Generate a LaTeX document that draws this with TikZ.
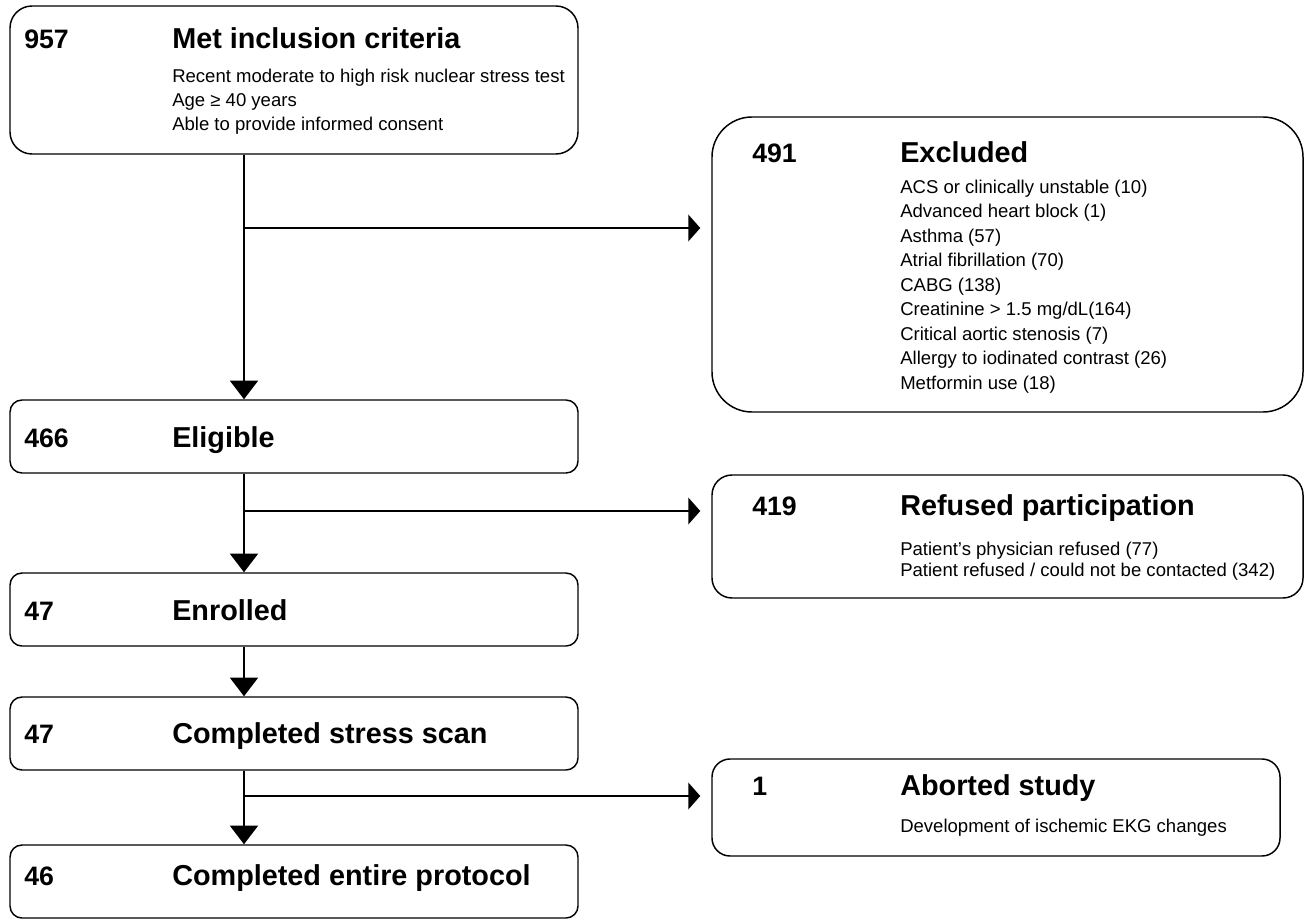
\documentclass[tikz,border=0pt]{standalone}
\usepackage{fontspec}
\setmainfont{Liberation Sans}
\usetikzlibrary{arrows.meta}

\begin{document}
\begin{tikzpicture}[x=0.75pt,y=-0.75pt,
    box/.style={draw,line width=1.1pt,rounded corners=#1,inner sep=0pt},
    num/.style={anchor=base west,inner sep=0pt,font=\fontsize{20}{24}\selectfont\bfseries},
    head/.style={anchor=base west,inner sep=0pt,font=\fontsize{21.6}{26}\selectfont\bfseries},
    item/.style={anchor=base west,inner sep=0pt,font=\fontsize{13.9}{17}\selectfont},
    down/.style={line width=1.5pt,-{Triangle[width=21pt,length=14pt]}},
    side/.style={line width=1.5pt,-{Triangle[width=20pt,length=9pt]},shorten >=8.25pt}]
    \useasboundingbox (0,0) rectangle (1309,920);

    % boxes
    \node[box=16.5pt,minimum width=426pt,minimum height=111pt] (incl) at (294,80) {};
    \node[box=30pt,minimum width=443.25pt,minimum height=221.25pt] (excl) at (1007.5,264.5) {};
    \node[box=9pt,minimum width=426pt,minimum height=54.75pt] (elig) at (294,436.5) {};
    \node[box=15pt,minimum width=443.25pt,minimum height=92.25pt] (refus) at (1007.5,536.5) {};
    \node[box=9pt,minimum width=426pt,minimum height=54.75pt] (enrol) at (294,609.5) {};
    \node[box=9pt,minimum width=426pt,minimum height=54.75pt] (stress) at (294,733.5) {};
    \node[box=9pt,minimum width=426pt,minimum height=54.75pt] (entire) at (294,881.5) {};
    \node[box=13.5pt,minimum width=426pt,minimum height=72.75pt] (abort) at (996,807.5) {};

    % texts
    \node[num] (incl-n) at (24,49) {957};
    \node[head] (incl-t) at (172,49) {Met inclusion criteria};
    \foreach \txt [count=\k] in {Recent moderate to high risk nuclear stress test,
        Age ≥ 40 years, Able to provide informed consent}
        \node[item] (incl-\k) at (172,{59+24*\k}) {\txt};

    \node[num] (excl-n) at (752,163) {491};
    \node[head] (excl-t) at (900,163) {Excluded};
    \foreach \txt [count=\k] in {ACS or clinically unstable (10), Advanced heart block (1),
        Asthma (57), Atrial fibrillation (70), CABG (138), Creatinine > 1.5 mg/dL(164),
        Critical aortic stenosis (7), Allergy to iodinated contrast (26), Metformin use (18)}
        \node[item] (excl-\k) at (900,{168.5+24.5*\k}) {\txt};

    \node[num] (elig-n) at (24,447) {466};
    \node[head] (elig-t) at (172,447) {Eligible};

    \node[num] (refus-n) at (752,515) {419};
    \node[head] (refus-t) at (900,515) {Refused participation};
    \foreach \txt [count=\k] in {Patient’s physician refused (77),
        Patient refused / could not be contacted (342)}
        \node[item] (refus-\k) at (900,{534+21*\k}) {\txt};

    \node[num] (enrol-n) at (24,620) {47};
    \node[head] (enrol-t) at (172,620) {Enrolled};

    \node[num] (stress-n) at (24,743) {47};
    \node[head] (stress-t) at (172,743) {Completed stress scan};

    \node[num] (abort-n) at (752,795) {1};
    \node[head] (abort-t) at (900,795) {Aborted study};
    \node[item] (abort-1) at (900,832) {Development of ischemic EKG changes};

    \node[num] (entire-n) at (24,885) {46};
    \node[head] (entire-t) at (172,885) {Completed entire protocol};

    % connectors
    \coordinate (s1) at (244,228);
    \coordinate (s2) at (244,511);
    \coordinate (s3) at (244,796);
    \draw[down] (s1 |- incl.south) -- (s1 |- elig.north);
    \draw[side] (s1) -- (s1 -| excl.west);
    \draw[down] (s2 |- elig.south) -- (s2 |- enrol.north);
    \draw[side] (s2) -- (s2 -| refus.west);
    \draw[down] (s2 |- enrol.south) -- (s2 |- stress.north);
    \draw[down] (s3 |- stress.south) -- (s3 |- entire.north);
    \draw[side] (s3) -- (s3 -| abort.west);
\end{tikzpicture}
\end{document}
